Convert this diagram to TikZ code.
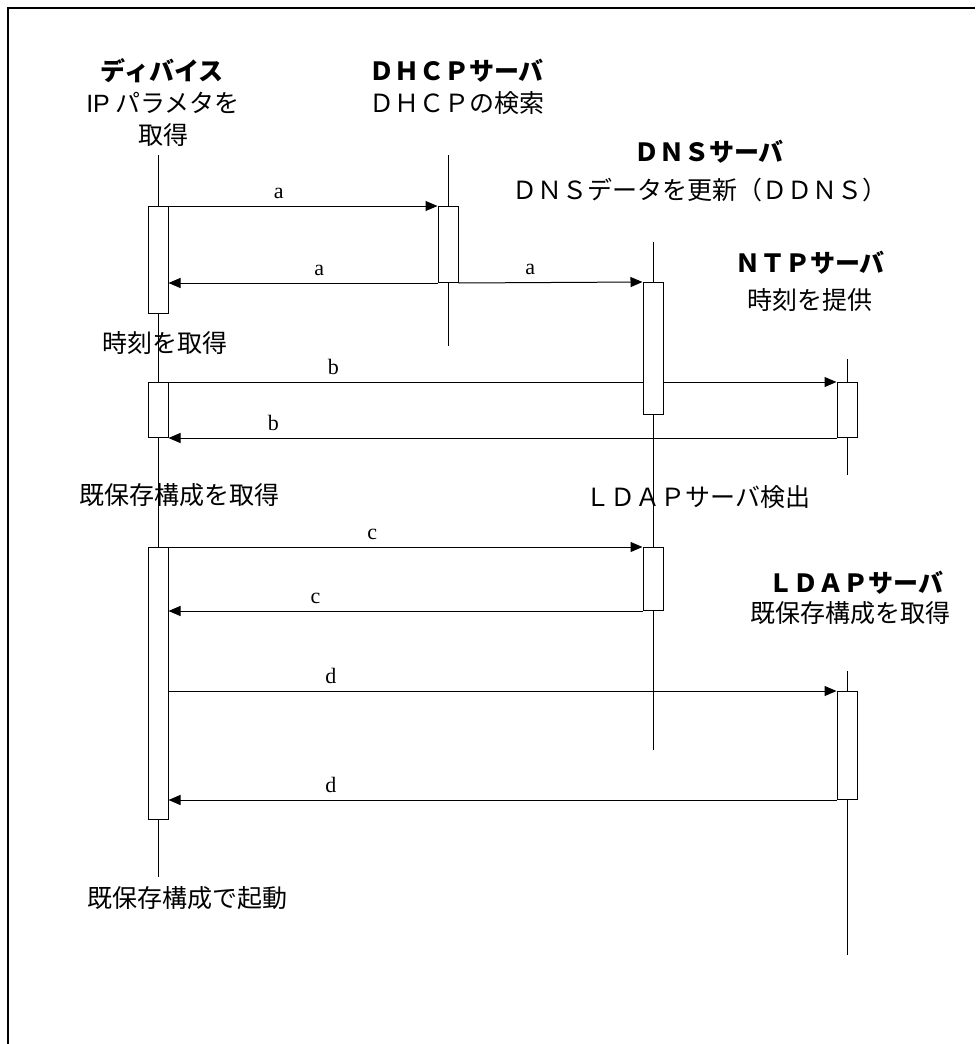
\documentclass[tikz,border=0pt]{standalone}
\usepackage{fontspec}
\setmainfont{Noto Sans CJK JP}
\newfontfamily\latinsans{Liberation Sans}
\newfontfamily\latinserif{Liberation Serif}
\usetikzlibrary{arrows.meta,backgrounds}

\begin{document}
\begin{tikzpicture}[
  x=0.5pt, y=-0.5pt,
  >={Triangle[length=6pt,width=5pt]},
  every node/.style={font=\fontsize{12.5}{16}\selectfont},
  hdr/.style={font=\fontsize{12.5}{16}\selectfont\bfseries},
  act/.style={draw,fill=white,line width=0.5pt,minimum width=10pt,inner sep=0pt,anchor=north},
  life/.style={line width=0.5pt},
  msg/.style={->,line width=0.5pt},
  lbl/.style={font=\latinserif\fontsize{11}{12}\selectfont,above=3.5pt,inner sep=0pt},
]
  \useasboundingbox (0,0) rectangle (975,1044);
  \draw[line width=1.2pt] (975,8) -- (8,8) -- (8,1044);

  % participants
  \node[hdr] (devname) at (162,71) {ディバイス};
  \node[align=center] (devtask) at (163,119) {{\latinsans IP} パラメタを\\取得};
  \node[hdr,anchor=west] (dhcpname) at (362,71) {ＤＨＣＰサーバ};
  \node[anchor=west] (dhcptask) at (362,103) {ＤＨＣＰの検索};
  \node[hdr] (dnsname) at (709,152) {ＤＮＳサーバ};
  \node (dnstask) at (700,190) {ＤＮＳデータを更新（ＤＤＮＳ）};
  \node[hdr] (ntpname) at (810,263) {ＮＴＰサーバ};
  \node (ntptask) at (810,300) {時刻を提供};
  \node[hdr] (ldapname) at (856,583) {ＬＤＡＰサーバ};
  \node (ldaptask) at (850,613) {既保存構成を取得};

  % step notes
  \node (gettime) at (165,343) {時刻を取得};
  \node (getconf) at (179,495) {既保存構成を取得};
  \node (findldap) at (698,497) {ＬＤＡＰサーバ検出};
  \node (boot) at (187,898) {既保存構成で起動};

  % lifeline ends
  \coordinate (devtop) at (158,155);
  \coordinate (devbot) at (158,877);
  \coordinate (dhcptop) at (448,155);
  \coordinate (dhcpbot) at (448,346);
  \coordinate (dnstop) at (653,242);
  \coordinate (dnsbot) at (653,750);
  \coordinate (ntptop) at (847,359);
  \coordinate (ntpbot) at (847,475);
  \coordinate (ldaptop) at (847,671);
  \coordinate (ldapbot) at (847,955);

  % activations
  \node[act,minimum height=53.5pt] (dev1) at (158,206) {};
  \node[act,minimum height=27.5pt] (dev2) at (158,382) {};
  \node[act,minimum height=136pt] (dev3) at (158,547) {};
  \node[act,minimum height=38pt] (dhcp1) at (448,206) {};
  \node[act,minimum height=66pt] (dns1) at (653,282) {};
  \node[act,minimum height=31.5pt] (dns2) at (653,547) {};
  \node[act,minimum height=27.5pt] (ntp1) at (847,382) {};
  \node[act,minimum height=54pt] (ldap1) at (847,691) {};

  \begin{scope}[on background layer]
    \draw[life] (devtop) -- (devbot);
    \draw[life] (dhcptop) -- (dhcpbot);
    \draw[life] (dnstop) -- (dnsbot);
    \draw[life] (ntptop) -- (ntpbot);
    \draw[life] (ldaptop) -- (ldapbot);

    \draw[msg] (dev1.north east) -- (dhcp1.north west) node[lbl,pos=0.41] {a};
    \draw[msg] (dhcp1.south west) -- (dhcp1.south west -| dev1.east) node[lbl,pos=0.44] {a};
    \draw[msg] (dhcp1.south east) -- (dns1.north west) node[lbl,pos=0.39] {a};
    \draw[msg] (dev2.north east) -- (ntp1.north west) node[lbl,pos=0.247] {b};
    \draw[msg] (ntp1.south west) -- (ntp1.south west -| dev2.east) node[lbl,pos=0.843] {b};
    \draw[msg] (dev3.north east) -- (dns2.north west) node[lbl,pos=0.43] {c};
    \draw[msg] (dns2.south west) -- (dns2.south west -| dev3.east) node[lbl,pos=0.69] {c};
    \draw[msg] (ldap1.north west -| dev3.east) -- (ldap1.north west) node[lbl,pos=0.243] {d};
    \draw[msg] (ldap1.south west) -- (ldap1.south west -| dev3.east) node[lbl,pos=0.757] {d};
  \end{scope}
\end{tikzpicture}
\end{document}
